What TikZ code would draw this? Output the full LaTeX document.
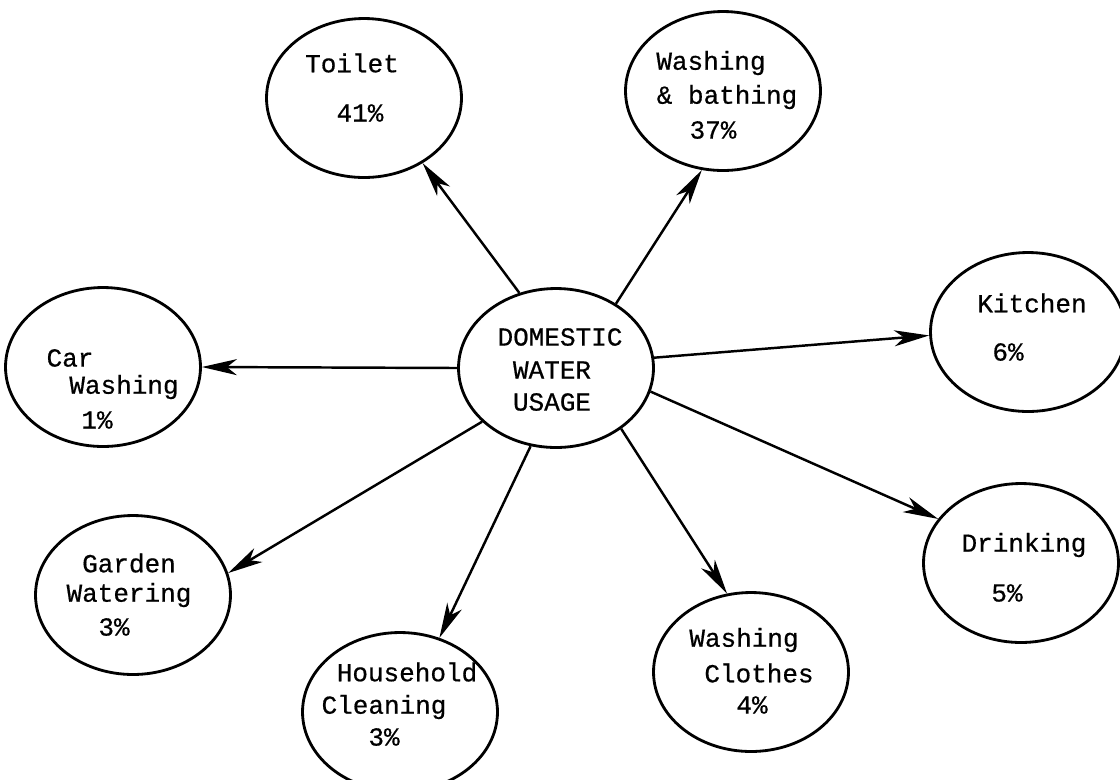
\documentclass[tikz,border=0pt]{standalone}
\usepackage{fontspec}
\newfontfamily\typew[FakeBold=0.6]{Liberation Mono}
\usetikzlibrary{shapes.geometric,arrows.meta}

\begin{document}
\begin{tikzpicture}[x=0.02cm, y=-0.02cm, line width=1.6pt,
        use/.style={draw, ellipse, inner sep=0pt, minimum width=3.9cm, minimum height=3.18cm},
        txt/.style={font=\typew\fontsize{14.8}{17}\selectfont, inner sep=0pt},
        flow/.style={line width=1.4pt, -{Stealth[length=7mm,width=3.2mm,inset=2mm]}}]
        \useasboundingbox (0, 0) rectangle (1120, 779);

        % ellipses
        \node[use] (usage) at (556, 368) {};
        \node[use] (toilet) at (364, 98) {};
        \node[use] (bathing) at (723, 91) {};
        \node[use] (kitchen) at (1028, 332) {};
        \node[use] (car) at (103, 367) {};
        \node[use] (drinking) at (1021, 563) {};
        \node[use] (garden) at (133, 595) {};
        \node[use] (cleaning) at (400, 712) {};
        \node[use] (clothes) at (751, 672) {};

        % texts
        \node[txt] (usage1) at (560, 337) {DOMESTIC};
        \node[txt] (usage2) at (552, 370) {WATER};
        \node[txt] (usage3) at (552, 402) {USAGE};

        \node[txt] (toilet1) at (352, 63) {Toilet};
        \node[txt] (toilet2) at (360, 113) {41\%};

        \node[txt] (bathing1) at (711, 63) {Washing};
        \node[txt] (bathing2) at (727, 97) {\& bathing};
        \node[txt] (bathing3) at (713, 130) {37\%};

        \node[txt] (kitchen1) at (1032, 303) {Kitchen};
        \node[txt] (kitchen2) at (1008, 352) {6\%};

        \node[txt] (car1) at (70, 358) {Car};
        \node[txt] (car2) at (124, 387) {Washing};
        \node[txt] (car3) at (97, 420) {1\%};

        \node[txt] (drinking1) at (1024, 545) {Drinking};
        \node[txt] (drinking2) at (1007, 593) {5\%};

        \node[txt] (garden1) at (129, 563) {Garden};
        \node[txt] (garden2) at (129, 595) {Watering};
        \node[txt] (garden3) at (114, 627) {3\%};

        \node[txt] (cleaning1) at (407, 672) {Household};
        \node[txt] (cleaning2) at (384, 707) {Cleaning};
        \node[txt] (cleaning3) at (384, 737) {3\%};

        \node[txt] (clothes1) at (744, 640) {Washing};
        \node[txt] (clothes2) at (759, 673) {Clothes};
        \node[txt] (clothes3) at (752, 705) {4\%};

        % arrows
        \draw[flow] (usage.116) -- (toilet.312);
        \draw[flow] (usage.47) -- (bathing.255);
        \draw[flow] (usage.6) -- (kitchen.182);
        \draw[flow] (usage.180) -- (car.0);
        \draw[flow] (usage.346) -- (drinking.152);
        \draw[flow] (usage.216) -- (garden.13);
        \draw[flow] (usage.252) -- (cleaning.62);
        \draw[flow] (usage.317) -- (clothes.107);
    \end{tikzpicture}
\end{document}
